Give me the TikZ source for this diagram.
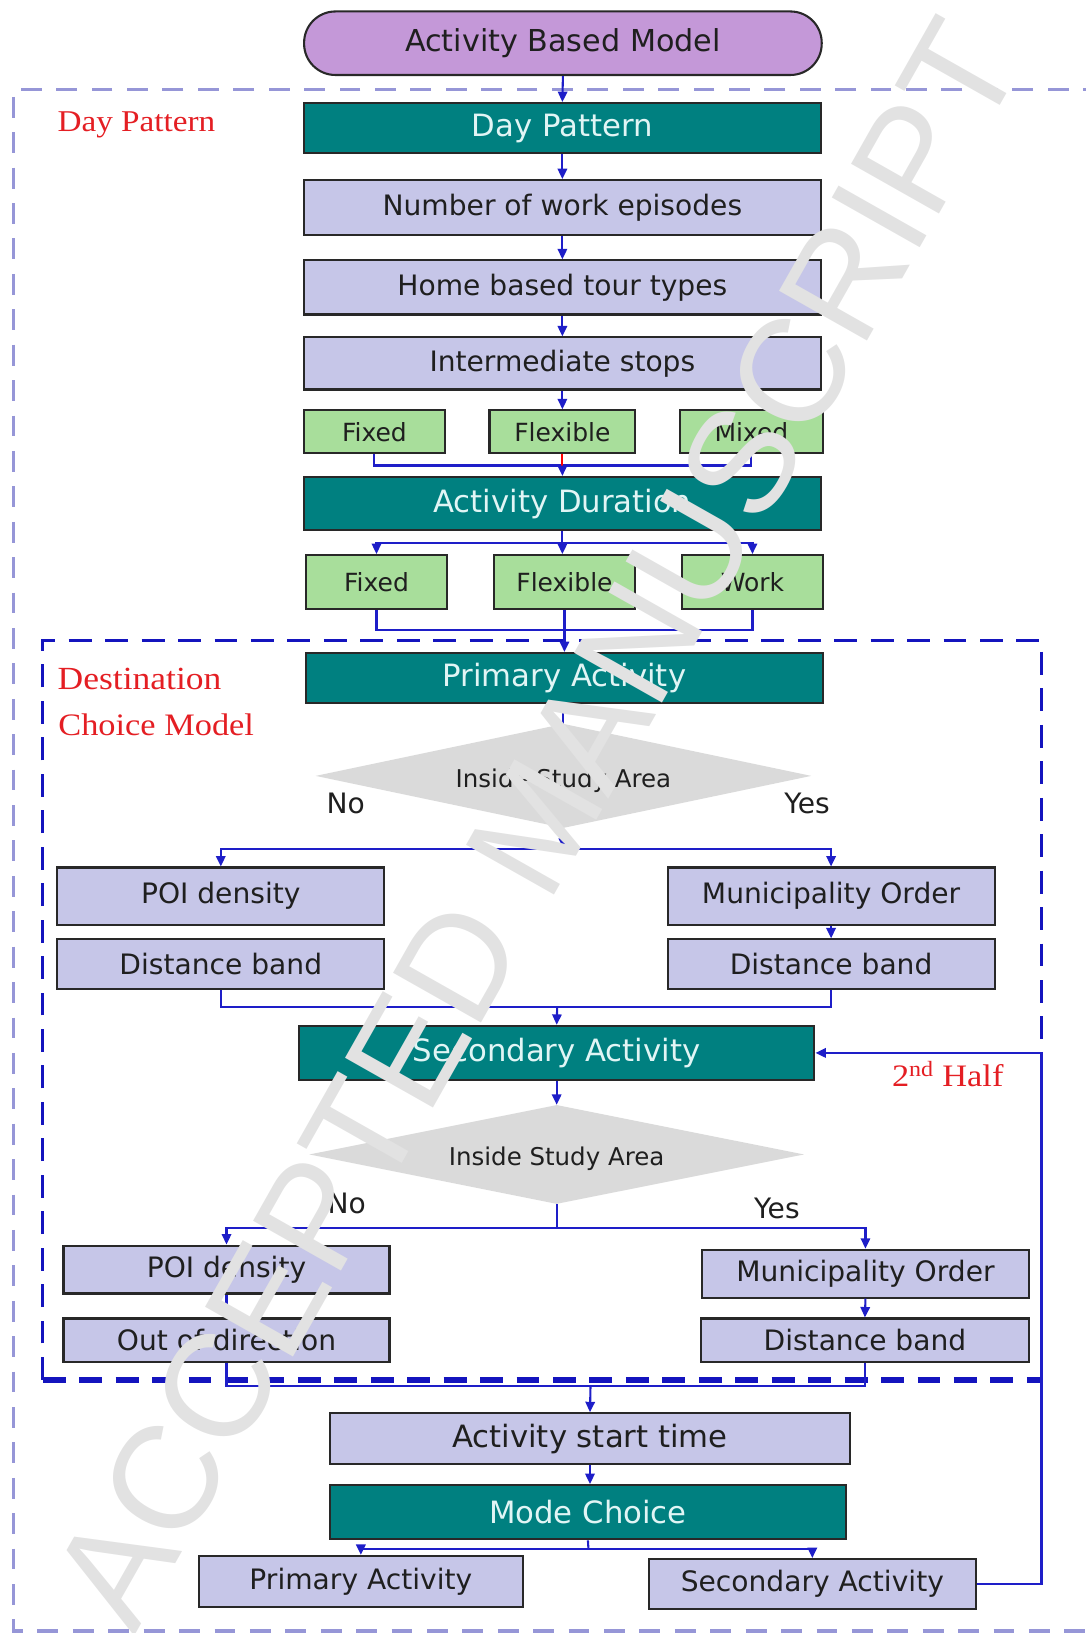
\documentclass[tikz,border=0pt]{standalone}
\usepackage{fontspec}
\setmainfont{DejaVu Sans}
\newfontfamily\redfont[FakeStretch=1.1]{Liberation Serif}
\newfontfamily\wmfont{Liberation Sans}
\usetikzlibrary{shapes.geometric,arrows.meta}
\definecolor{tealbox}{RGB}{0,128,128}
\definecolor{tealtext}{RGB}{225,245,245}
\definecolor{lavbox}{RGB}{198,198,232}
\definecolor{greenbox}{RGB}{168,222,155}
\definecolor{purpbox}{RGB}{196,152,216}
\definecolor{boxline}{RGB}{40,40,40}
\definecolor{connblue}{RGB}{30,30,200}
\definecolor{outerc}{RGB}{150,150,215}
\definecolor{innerc}{RGB}{20,20,190}
\definecolor{redlab}{RGB}{228,30,35}
\definecolor{diagray}{RGB}{218,218,218}
\definecolor{wmgray}{RGB}{226,226,226}
\begin{document}
\begin{tikzpicture}[x=1pt,y=-1pt,
  basebox/.style={rectangle, draw=boxline, line width=2pt, inner sep=0pt, text=black!88},
  lav/.style={basebox, fill=lavbox, font=\fontsize{27}{30}\selectfont},
  tealb/.style={basebox, fill=tealbox, text=tealtext, font=\fontsize{29.5}{32}\selectfont},
  grn/.style={basebox, fill=greenbox, font=\fontsize{24}{27}\selectfont},
  dia/.style={diamond, fill=diagray, inner sep=0pt, aspect=4.7},
  diatext/.style={anchor=base, text=black!88, font=\fontsize{23.5}{26}\selectfont},
  yn/.style={anchor=base, text=black!88, font=\fontsize{27}{30}\selectfont},
  redl/.style={anchor=base, text=redlab},
  conn/.style={draw=connblue, line width=2pt},
  arr/.style={conn, -{Triangle[length=10pt,width=9pt]}},
  outerframe/.style={draw=outerc, line width=3pt, dash pattern=on 20pt off 14pt},
  innerframe/.style={draw=innerc, line width=3pt, dash pattern=on 22pt off 13pt}
]
\useasboundingbox (0,0) rectangle (1042,1568);

% frames
\draw[outerframe] (1060,86) -- (13,86) -- (13,1566) -- (1060,1566);
\draw[innerframe] (41,1325) -- (41,615) -- (1000,615) -- (1000,1325);
\draw[innerframe, line width=5pt] (41,1325) -- (1000,1325);

% nodes
\node[basebox, fill=purpbox, rounded corners=30pt, minimum width=497pt, minimum height=61pt,
      font=\fontsize{29}{32}\selectfont] (abm) at (540.5,41.5) {Activity Based Model};
\node[tealb, minimum width=496pt, minimum height=48pt] (dp) at (540,123) {Day Pattern};
\node[lav, minimum width=496pt, minimum height=53pt] (nwe) at (540,199.5) {Number of work episodes};
\node[lav, minimum width=496pt, minimum height=52pt] (hbt) at (540,276) {Home based tour types};
\node[lav, minimum width=496pt, minimum height=50pt] (ist) at (540,349) {Intermediate stops};
\node[grn, minimum width=135pt, minimum height=41pt] (fix1) at (359.5,414.5) {Fixed};
\node[grn, minimum width=140pt, minimum height=41pt] (flex1) at (540,414.5) {Flexible};
\node[grn, minimum width=137pt, minimum height=41pt] (mix1) at (721.5,414.5) {Mixed};
\node[tealb, minimum width=496pt, minimum height=51pt] (ad) at (540,483.5) {Activity Duration};
\node[grn, minimum width=135pt, minimum height=52pt] (fix2) at (361.5,559) {Fixed};
\node[grn, minimum width=136pt, minimum height=52pt] (flex2) at (542,559) {Flexible};
\node[grn, minimum width=135pt, minimum height=52pt] (work2) at (722.5,559) {Work};
\node[tealb, minimum width=496pt, minimum height=48pt] (pa) at (542,651) {Primary Activity};
\node[dia, minimum width=476pt, minimum height=100pt] (dia1) at (541,745) {};
\node[diatext] (dia1t) at (541,756) {Inside Study Area};
\node[yn] (no1) at (332,781) {No};
\node[yn] (yes1) at (775,781) {Yes};
\node[lav, minimum width=314pt, minimum height=55pt] (poi1) at (212,860.5) {POI density};
\node[lav, minimum width=314pt, minimum height=48pt] (db1l) at (212,926) {Distance band};
\node[lav, minimum width=314pt, minimum height=55pt] (mo1) at (798,860.5) {Municipality Order};
\node[lav, minimum width=314pt, minimum height=48pt] (db1r) at (798,926) {Distance band};
\node[tealb, minimum width=495pt, minimum height=52pt] (sa) at (534.5,1011) {Secondary Activity};
\node[dia, minimum width=475pt, minimum height=95pt] (dia2) at (534.5,1108.5) {};
\node[diatext] (dia2t) at (534.5,1119) {Inside Study Area};
\node[yn] (no2) at (333,1165) {No};
\node[yn] (yes2) at (746,1170) {Yes};
\node[lav, minimum width=313pt, minimum height=46pt] (poi2) at (217.5,1219) {POI density};
\node[lav, minimum width=313pt, minimum height=42pt] (ood) at (217.5,1287) {Out of direction};
\node[lav, minimum width=314pt, minimum height=46pt] (mo2) at (831,1223) {Municipality Order};
\node[lav, minimum width=315pt, minimum height=42pt] (db2) at (830.5,1287) {Distance band};
\node[lav, minimum width=499pt, minimum height=49pt, font=\fontsize{29.5}{32}\selectfont] (ast) at (566.5,1381.5) {Activity start time};
\node[tealb, minimum width=495pt, minimum height=52pt] (mc) at (564.5,1452) {Mode Choice};
\node[lav, minimum width=311pt, minimum height=49pt] (pab) at (346.5,1518.5) {Primary Activity};
\node[lav, minimum width=314pt, minimum height=48pt] (sab) at (780,1521) {Secondary Activity};

% red labels
\node[redl, font=\redfont\fontsize{29}{32}\selectfont] (lbdp) at (131,126.5) {Day Pattern};
\node[redl, font=\redfont\fontsize{31}{34}\selectfont] (lbdest) at (134,662.5) {Destination};
\node[redl, font=\redfont\fontsize{30}{33}\selectfont] (lbcm) at (150,706) {Choice Model};
\node[redl, font=\redfont\fontsize{30}{33}\selectfont] (lbhalf) at (910,1043) {2\textsuperscript{nd} Half};

% junction coordinates
\coordinate (j1) at (540,447);
\coordinate (j2) at (540,521);
\coordinate (j3) at (542,605);
\coordinate (j4) at (541,815);
\coordinate (j5) at (535,967);
\coordinate (j6) at (534.5,1179);
\coordinate (j7) at (567,1331);
\coordinate (j8) at (565,1487);
\coordinate (loopc) at (1000,1011);

% connectors
\draw[arr] (abm.south) -- (dp.north);
\draw[arr] (dp.south) -- (nwe.north);
\draw[arr] (nwe.south) -- (hbt.north);
\draw[arr] (hbt.south) -- (ist.north);
\draw[arr] (ist.south) -- (flex1.north);
\draw[conn] (fix1.south) |- (j1) -| (mix1.south);
\draw[conn, draw=red] (flex1.south) -- (j1);
\draw[arr] (j1) -- (ad.north);
\draw[conn] (ad.south) -- (j2);
\draw[arr] (j2) -| (fix2.north);
\draw[arr] (j2) -| (work2.north);
\draw[arr] (j2) -- (j2 |- flex2.north);
\draw[conn] (fix2.south) |- (j3) -| (work2.south);
\draw[arr] (flex2.south) -- (pa.north);
\draw[conn] (dia1.north |- pa.south) -- (dia1.north);
\draw[arr] (dia1.south) -- (j4);
\draw[arr] (j4) -| (poi1.north);
\draw[arr] (j4) -| (mo1.north);
\draw[arr] (mo1.south) -- (db1r.north);
\draw[conn] (db1l.south) |- (j5) -| (db1r.south);
\draw[arr] (j5) -- (sa.north);
\draw[arr] (sa.south) -- (dia2.north);
\draw[conn] (dia2.south) -- (j6);
\draw[arr] (j6) -| (poi2.north);
\draw[arr] (j6) -| (mo2.north);
\draw[conn] (poi2.south) -- (ood.north);
\draw[arr] (mo2.south) -- (db2.north);
\draw[conn] (ood.south) |- (j7) -| (db2.south);
\draw[arr] (j7) -- (ast.north);
\draw[arr] (ast.south) -- (ast.south |- mc.north);
\draw[conn] (mc.south) -- (j8);
\draw[arr] (j8) -| (pab.north);
\draw[arr] (j8) -| (sab.north);
\draw[arr] (sab.east) -| (loopc) -- (sa.east);

% watermark
\node[font=\wmfont\fontsize{141}{146}\selectfont, text=wmgray, rotate=60.5, inner sep=0pt] (wm) at (515,791) {ACCEPTED MANUSCRIPT};
\end{tikzpicture}
\end{document}
